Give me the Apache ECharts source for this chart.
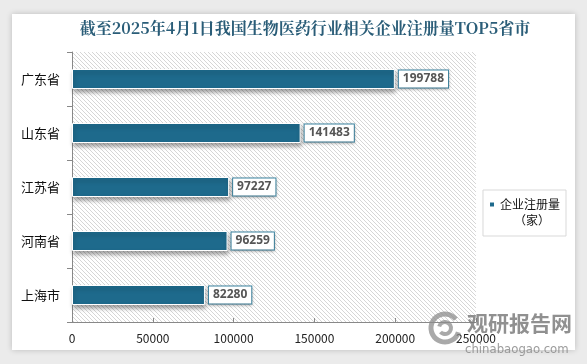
<!DOCTYPE html>
<html><head><meta charset="utf-8">
<script src="https://cdn.jsdelivr.net/npm/echarts@6/dist/echarts.min.js"></script>
<style>html,body{margin:0;padding:0;background:#ebebeb;}#c{width:587px;height:364px;}</style>
</head><body><div id="c"></div>
<script>
var categories = ['广东省','山东省','江苏省','河南省','上海市'];
var values = [199788, 141483, 97227, 96259, 82280];
var xTicks = [0, 50000, 100000, 150000, 200000, 250000];
var seriesName = '企业注册量';
var seriesUnit = '（家）';

var pc = document.createElement('canvas');
pc.width = 4; pc.height = 4;
var g = pc.getContext('2d');
g.fillStyle = '#ffffff'; g.fillRect(0,0,4,4);
g.strokeStyle = '#d6d6d6'; g.lineWidth = 1;
g.beginPath();
g.moveTo(0,0); g.lineTo(4,4);
g.moveTo(-2,2); g.lineTo(2,6);
g.moveTo(2,-2); g.lineTo(6,2);
g.stroke();

var chart = echarts.init(document.getElementById('c'), null, {renderer:'canvas'});
chart.setOption({
  backgroundColor: '#ebebeb',
  animation: false,
  graphic: [
    {type:'rect', shape:{x:12,y:14,width:563,height:336}, style:{fill:'#ffffff', shadowBlur:6, shadowColor:'rgba(0,0,0,0.2)'}, z:-10},
    {type:'text', left:514, top:214, style:{text:seriesUnit, font:'12px "Noto Sans CJK SC"', fill:'#111'}, z:100},
    {type:'arc', shape:{cx:445, cy:328, r:14, startAngle:0.3, endAngle:5.6}, style:{stroke:'rgba(140,140,140,0.75)', lineWidth:5, fill:null}, z:100},
    {type:'arc', shape:{cx:445, cy:328, r:6, startAngle:3.4, endAngle:8.7}, style:{stroke:'rgba(140,140,140,0.75)', lineWidth:4, fill:null}, z:100},
    {type:'text', left:467, top:313, style:{text:'观研报告网', font:'bold 21px "Noto Sans CJK SC"', fill:'rgba(125,125,125,0.85)'}, z:100},
    {type:'text', left:465, top:343, style:{text:'chinabaogao.com', font:'13px "DejaVu Sans Condensed"', fill:'rgba(140,140,140,0.85)'}, z:100}
  ],
  title: {
    text: '截至2025年4月1日我国生物医药行业相关企业注册量TOP5省市',
    left: 300, textAlign: 'center', top: 15,
    textStyle: {fontFamily: '"Noto Serif CJK SC","Noto Sans CJK SC", serif', fontSize: 16, fontWeight: 'bold', color: '#2a5d78'}
  },
  legend: {
    orient: 'vertical', right: 21, top: 190,
    itemWidth: 6, itemHeight: 6, icon: 'rect', itemGap: 0,
    padding: [7,6,24,5],
    borderColor: '#d9d9d9', borderWidth: 1, backgroundColor: '#fff',
    textStyle: {fontFamily: '"Noto Sans CJK SC"', fontSize: 12, color: '#111', lineHeight: 15},
    data: [seriesName]
  },
  grid: {left: 72, right: 111, top: 52, bottom: 42, show: true, borderWidth: 0,
    backgroundColor: {image: pc, repeat: 'repeat'}},
  xAxis: {
    type: 'value', min: 0, max: 250000, interval: 50000,
    axisLine: {show: true, lineStyle: {color: '#888'}},
    axisTick: {show: true, inside: true, length: 4, lineStyle:{color:'#888'}},
    splitLine: {show: false},
    axisLabel: {color: '#222', fontSize: 12, fontFamily: '"Noto Sans CJK SC"', margin: 10,
      formatter: function(v){ return xTicks.indexOf(v) >= 0 ? String(v) : ''; }}
  },
  yAxis: {
    type: 'category', inverse: true, data: categories,
    axisLine: {show: true, lineStyle: {color: '#888'}},
    axisTick: {show: true, length: 5, lineStyle:{color:'#888'}},
    axisLabel: {color: '#111', fontSize: 13, fontFamily: '"Noto Sans CJK SC"', margin: 12}
  },
  series: [{
    name: seriesName, type: 'bar', data: values, barWidth: 20,
    itemStyle: {color: '#1e6a8c', borderColor:'#fff', borderWidth: 1, shadowBlur: 4, shadowOffsetY: 3, shadowOffsetX: 1, shadowColor: 'rgba(0,0,0,0.35)'},
    label: {
      show: true, position: 'right', distance: 4,
      color: '#555', fontSize: 12, fontWeight: 'bold', fontFamily: '"Noto Sans","DejaVu Sans"',
      backgroundColor: '#fff', borderColor: '#3d86a3', borderWidth: 1, padding: [3,4,2,4],
      shadowBlur: 3, shadowColor: 'rgba(0,0,0,0.25)', shadowOffsetY: 1
    }
  }]
});
</script></body></html>
